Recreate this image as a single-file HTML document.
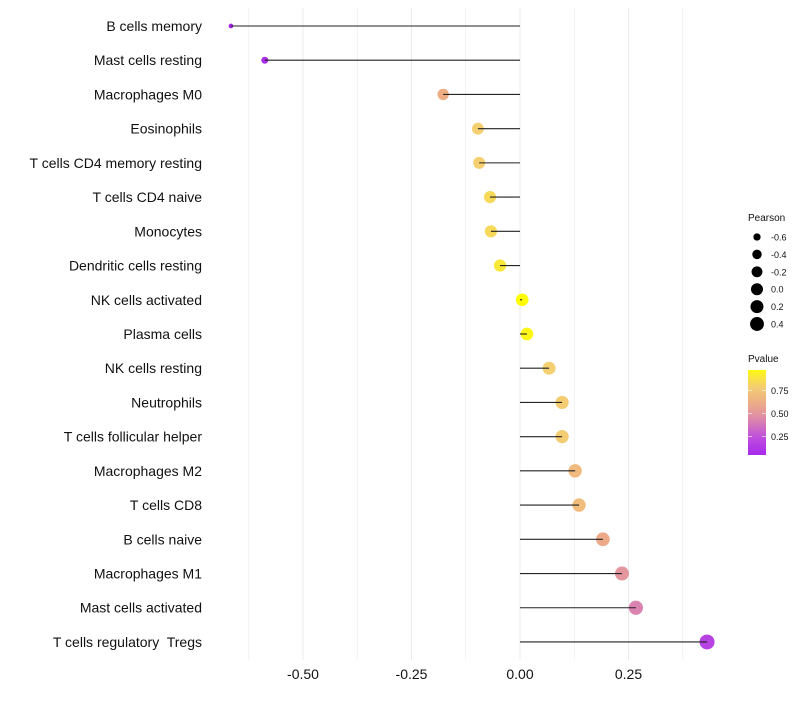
<!DOCTYPE html>
<html><head><meta charset="utf-8"><style>
body{margin:0;background:#fff;font-family:"Liberation Sans",sans-serif}
svg text{font-family:"Liberation Sans",sans-serif;white-space:pre}
</style></head><body>
<svg id="chart" width="800" height="700" xmlns="http://www.w3.org/2000/svg"></svg>
<script>
const categories=["B cells memory","Mast cells resting","Macrophages M0","Eosinophils","T cells CD4 memory resting","T cells CD4 naive","Monocytes","Dendritic cells resting","NK cells activated","Plasma cells","NK cells resting","Neutrophils","T cells follicular helper","Macrophages M2","T cells CD8","B cells naive","Macrophages M1","Mast cells activated","T cells regulatory  Tregs"];
const pearson=[-0.666,-0.588,-0.177,-0.097,-0.094,-0.069,-0.067,-0.046,0.005,0.016,0.067,0.097,0.097,0.127,0.136,0.191,0.235,0.267,0.431];
const pvalue=[0.03,0.08,0.62,0.8,0.8,0.84,0.84,0.9,0.99,0.96,0.8,0.78,0.78,0.68,0.7,0.6,0.5,0.42,0.18];
const xTicks=[-0.5,-0.25,0,0.25];
const xTickLabels=["-0.50","-0.25","0.00","0.25"];
const sizeLegend=[-0.6,-0.4,-0.2,0.0,0.2,0.4];
const sizeLegendLabels=["-0.6","-0.4","-0.2","0.0","0.2","0.4"];
const pLegend=[0.25,0.5,0.75];
const pLegendLabels=["0.25","0.50","0.75"];

const NS="http://www.w3.org/2000/svg";
const svg=document.getElementById('chart');
const x=v=>520+v*434;
const y=i=>26+i*34.22;
const r=v=>2+5.5*Math.sqrt(Math.max(0,(v+0.67)/1.1));
const rl=v=>2.5+4.5*Math.sqrt(Math.max(0,(v+0.67)/1.1));
const stops=[[0,[160,32,240]],[0.25,[192,80,220]],[0.45,[222,140,168]],[0.6,[236,170,136]],[0.8,[245,208,112]],[1,[255,255,0]]];
function col(p){for(let k=1;k<stops.length;k++){if(p<=stops[k][0]){const a=stops[k-1],b=stops[k];const t=(p-a[0])/(b[0]-a[0]);return 'rgb('+a[1].map((c,j)=>Math.round(c+(b[1][j]-c)*t)).join(',')+')';}}return 'rgb(255,255,0)';}
function el(t,a,parent){const e=document.createElementNS(NS,t);for(const k in a)e.setAttribute(k,a[k]);(parent||svg).appendChild(e);return e;}
const ly=py=>455-(py-0.05)/0.92*85;

for(let g=-0.625;g<=0.45;g+=0.125){
  const gl=el('line',{x1:x(g),x2:x(g),y1:8,y2:660,stroke:'#ebebeb','stroke-width':Math.abs(g*4-Math.round(g*4))<1e-6?1:0.6});
  
  
}
xTicks.forEach((t,i)=>{
  const tx=el('text',{x:x(t),y:679,'text-anchor':'middle','font-size':14,fill:'#111'});
  tx.textContent=xTickLabels[i];
  
  
});
categories.forEach((c,i)=>{
  const lb=el('text',{x:202,y:y(i)+5,'text-anchor':'end','font-size':14,fill:'#111','xml:space':'preserve'});
  lb.textContent=c;
  
  
  const pt=el('circle',{cx:x(pearson[i]),cy:y(i),r:r(pearson[i]),fill:col(pvalue[i])});
  
  
  const ln=el('line',{x1:x(0),x2:x(pearson[i]),y1:y(i),y2:y(i),stroke:'#222','stroke-width':1.1});
  
  
});
const st=el('text',{x:748,y:221,'font-size':10,fill:'#111'});st.textContent='Pearson';


sizeLegend.forEach((v,i)=>{
  const cy=237+i*17.4;
  const c=el('circle',{cx:757,cy:cy,r:rl(v),fill:'#000'});
  
  
  const t=el('text',{x:771,y:cy+3.5,'font-size':9,fill:'#111'});t.textContent=sizeLegendLabels[i];
  
  
});
const pt2=el('text',{x:748,y:362,'font-size':10,fill:'#111'});pt2.textContent='Pvalue';


const defs=el('defs',{});
const lg=el('linearGradient',{id:'pg',x1:0,y1:1,x2:0,y2:0},defs);
for(let k=0;k<=10;k++){const pv=0.05+k*0.092;el('stop',{offset:k/10,'stop-color':col(pv)},lg);}
const bar=el('rect',{x:748,y:370,width:18,height:85,fill:'url(#pg)'});


pLegend.forEach((v,i)=>{
  const yy=ly(v);
  el('line',{x1:748,x2:752,y1:yy,y2:yy,stroke:'#fff','stroke-width':0.6});
  el('line',{x1:762,x2:766,y1:yy,y2:yy,stroke:'#fff','stroke-width':0.6});
  const t=el('text',{x:771,y:yy+3.5,'font-size':9,fill:'#111'});t.textContent=pLegendLabels[i];
  
  
});
</script>
</body></html>
